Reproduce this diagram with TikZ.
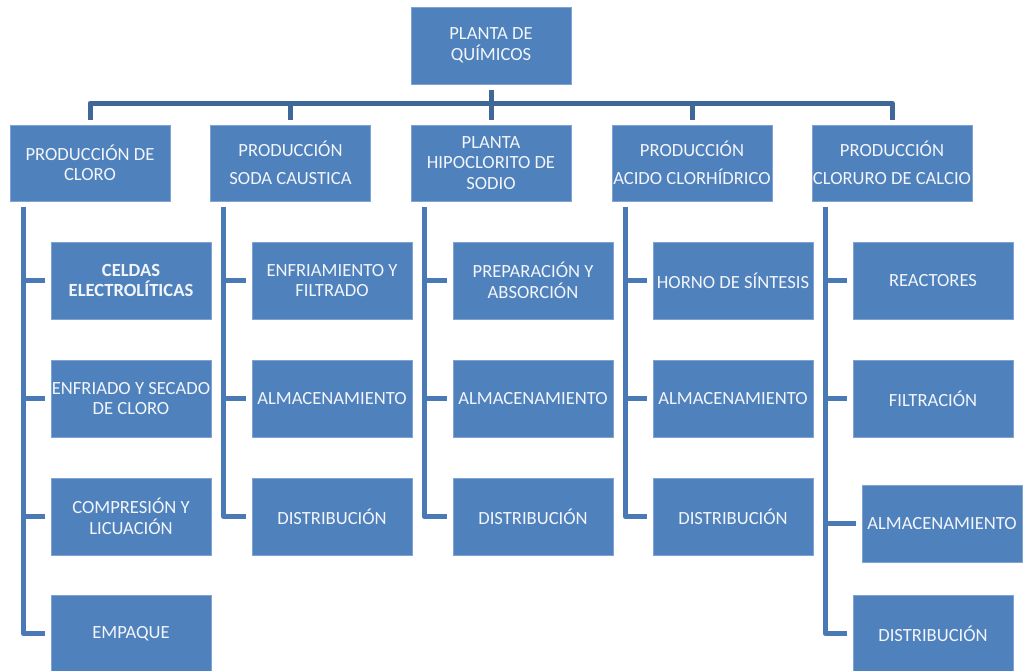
\documentclass[tikz,border=0pt]{standalone}
\usepackage{fontspec}
\setmainfont{Carlito}
\usetikzlibrary{calc}
\definecolor{boxfill}{HTML}{4F81BD}
\definecolor{boxedge}{HTML}{7FA3D3}
\definecolor{busc}{HTML}{3F6898}
\definecolor{branchc}{HTML}{4A7AB5}
\definecolor{txt}{HTML}{F2F5FA}
\tikzset{
  box/.style={fill=boxfill, draw=boxedge, line width=0.5pt, text=txt,
    minimum width=160pt, minimum height=77pt, inner sep=0pt, align=center,
    font=\fontsize{18.6}{20.5}\selectfont},
  busline/.style={draw=busc, line width=5pt, line join=round, shorten <=6pt, shorten >=5pt},
  branch/.style={draw=branchc, line width=5pt, line join=round, shorten <=6pt, shorten >=6pt}
}
\begin{document}
\begin{tikzpicture}[x=1pt,y=-1pt]
\useasboundingbox (0,0) rectangle (1024,670);
% root
\node[box] (root) at (491,45.5) {PLANTA DE\\QUÍMICOS};
% level 1
\node[box, minimum height=76pt] (c1) at (90,163) {PRODUCCIÓN DE\\CLORO};
\node[box, minimum height=76pt] (c2) at (290.5,163) {PRODUCCIÓN\\[8pt]SODA CAUSTICA};
\node[box, minimum height=76pt] (c3) at (491,163) {PLANTA\\HIPOCLORITO DE\\SODIO};
\node[box, minimum height=76pt] (c4) at (692,163) {PRODUCCIÓN\\[8pt]ACIDO CLORHÍDRICO};
\node[box, minimum height=76pt] (c5) at (892,163) {PRODUCCIÓN\\[8pt]CLORURO DE CALCIO};
% column 1
\node[box] (a1) at (131,280.5) {\bfseries CELDAS\\\bfseries ELECTROLÍTICAS};
\node[box] (a2) at (131,398.5) {ENFRIADO Y SECADO\\DE CLORO};
\node[box] (a3) at (131,516.5) {COMPRESIÓN Y\\LICUACIÓN};
\node[box] (a4) at (131,633.5) {EMPAQUE};
% column 2
\node[box] (b1) at (332,280.5) {ENFRIAMIENTO Y\\FILTRADO};
\node[box] (b2) at (332,398.5) {ALMACENAMIENTO};
\node[box] (b3) at (332,516.5) {DISTRIBUCIÓN};
% column 3
\node[box] (d1) at (533,280.5) {PREPARACIÓN Y\\ABSORCIÓN};
\node[box] (d2) at (533,398.5) {ALMACENAMIENTO};
\node[box] (d3) at (533,516.5) {DISTRIBUCIÓN};
% column 4
\node[box] (e1) at (733,280.5) {HORNO DE SÍNTESIS};
\node[box] (e2) at (733,398.5) {ALMACENAMIENTO};
\node[box] (e3) at (733,516.5) {DISTRIBUCIÓN};
% column 5
\node[box] (f1) at (933,280.5) {REACTORES};
\node[box] (f2) at (933,398.5) {FILTRACIÓN};
\node[box] (f3) at (942,523.5) {ALMACENAMIENTO};
\node[box] (f4) at (933,633.5) {DISTRIBUCIÓN};
% bus
\coordinate (bus) at (491,103);
\foreach \c in {c1,c2,c3,c4,c5}
  \draw[busline] (root.south) -- (root.south |- bus) -| (\c.north);
% branches
\foreach \p/\k in {c1/a1,c1/a2,c1/a3,c1/a4,c2/b1,c2/b2,c2/b3,c3/d1,c3/d2,c3/d3,c4/e1,c4/e2,c4/e3,c5/f1,c5/f2,c5/f3,c5/f4}
  \draw[branch] ($(\p.south west)+(13.5,0)$) |- (\k.west);
\end{tikzpicture}
\end{document}
